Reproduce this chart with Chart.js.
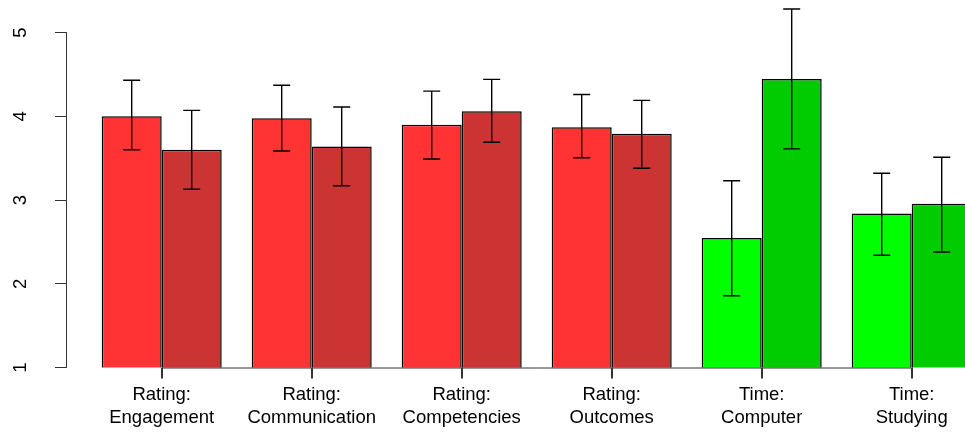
<!DOCTYPE html>
<html>
<head>
<meta charset="utf-8">
<script src="https://cdn.jsdelivr.net/npm/chart.js@4"></script>
<style>
    html, body { margin: 0; padding: 0; background: #fff; overflow: hidden; }
</style>
</head>
<body>
<canvas id="chart" width="965" height="432"></canvas>
<script>
const categoryLabels = [
    ["Rating:", "Engagement"],
    ["Rating:", "Communication"],
    ["Rating:", "Competencies"],
    ["Rating:", "Outcomes"],
    ["Time:", "Computer"],
    ["Time:", "Studying"],
];
const firstValues = [4.0, 3.975, 3.9, 3.87, 2.545, 2.84];
const firstLow = [3.6, 3.585, 3.49, 3.505, 1.857, 2.34];
const firstHigh = [4.43, 4.37, 4.3, 4.26, 3.23, 3.32];
const secondValues = [3.6, 3.64, 4.06, 3.79, 4.445, 2.956];
const secondLow = [3.13, 3.17, 3.69, 3.38, 3.61, 2.38];
const secondHigh = [4.07, 4.11, 4.44, 4.19, 5.28, 3.51];
const firstColors = ["#ff3333", "#ff3333", "#ff3333", "#ff3333", "#00ff00", "#00ff00"];
const secondColors = ["#cc3333", "#cc3333", "#cc3333", "#cc3333", "#00cc00", "#00cc00"];
const yTicks = [1, 2, 3, 4, 5];

const axisColor = "#333";
const font = { family: "'Liberation Sans', Arial, sans-serif", size: 18.5, lineHeight: 1.25 };

const toPoints = (values) => values.map((v, i) => ({ x: i + 1, y: v }));

// whiskers plus the R-style x axis (line from first to last tick, tick marks)
const errorBars = {
    id: "errorBars",
    afterDatasetsDraw(chart) {
        const { ctx, scales } = chart;
        const bounds = [
            [firstLow, firstHigh],
            [secondLow, secondHigh],
        ];
        ctx.save();
        ctx.strokeStyle = "#000";
        ctx.lineWidth = 1.4;
        chart.data.datasets.forEach((ds, d) => {
            const meta = chart.getDatasetMeta(d);
            meta.data.forEach((bar, i) => {
                const top = scales.y.getPixelForValue(bounds[d][1][i]);
                const bottom = scales.y.getPixelForValue(bounds[d][0][i]);
                const cap = 8.5;
                ctx.beginPath();
                ctx.moveTo(bar.x, top);
                ctx.lineTo(bar.x, bottom);
                ctx.moveTo(bar.x - cap, top);
                ctx.lineTo(bar.x + cap, top);
                ctx.moveTo(bar.x - cap, bottom);
                ctx.lineTo(bar.x + cap, bottom);
                ctx.stroke();
            });
        });
        const yBase = scales.y.getPixelForValue(yTicks[0]);
        ctx.strokeStyle = axisColor;
        ctx.lineWidth = 1;
        ctx.beginPath();
        ctx.moveTo(scales.x.getPixelForValue(1), yBase + 0.5);
        ctx.lineTo(scales.x.getPixelForValue(categoryLabels.length), yBase + 0.5);
        categoryLabels.forEach((_, i) => {
            const x = Math.round(scales.x.getPixelForValue(i + 1)) + 0.5;
            ctx.moveTo(x, yBase);
            ctx.lineTo(x, yBase + 11);
        });
        ctx.stroke();
        ctx.restore();
    },
};

new Chart(document.getElementById("chart"), {
    type: "bar",
    data: {
        datasets: [
            {
                data: toPoints(firstValues),
                backgroundColor: firstColors,
                borderColor: "#000",
                borderWidth: 1.5,
            },
            {
                data: toPoints(secondValues),
                backgroundColor: secondColors,
                borderColor: "#000",
                borderWidth: 1.5,
            },
        ],
    },
    options: {
        responsive: false,
        animation: false,
        layout: { padding: { top: 32.5, left: 0, right: 0, bottom: 0 } },
        plugins: { legend: { display: false }, tooltip: { enabled: false } },
        datasets: { bar: { categoryPercentage: 0.8, barPercentage: 1 } },
        scales: {
            x: {
                type: "linear",
                offset: false,
                min: 0.362,
                max: 6.3553,
                afterBuildTicks: (scale) => {
                    scale.ticks = categoryLabels.map((_, i) => ({ value: i + 1 }));
                },
                afterFit: (scale) => {
                    scale.height = 64.5;
                    scale.paddingLeft = 0;
                    scale.paddingRight = 0;
                },
                grid: {
                    offset: false,
                    drawOnChartArea: false,
                    tickLength: 11,
                    color: axisColor,
                    tickColor: axisColor,
                },
                border: { display: false },
                ticks: {
                    autoSkip: false,
                    maxRotation: 0,
                    padding: 5,
                    color: "#000",
                    font,
                    callback: (value) => categoryLabels[value - 1],
                },
            },
            y: {
                min: 1,
                max: 5,
                afterBuildTicks: (scale) => {
                    scale.ticks = yTicks.map((v) => ({ value: v }));
                },
                afterFit: (scale) => {
                    scale.width = 66;
                    scale.paddingTop = 0;
                    scale.paddingBottom = 0;
                },
                grid: {
                    drawOnChartArea: false,
                    tickLength: 11,
                    color: axisColor,
                    tickColor: axisColor,
                },
                border: { display: true, color: axisColor },
                ticks: {
                    minRotation: 90,
                    maxRotation: 90,
                    crossAlign: "center",
                    padding: 29,
                    color: "#000",
                    font,
                },
            },
        },
    },
    plugins: [errorBars],
});
</script>
</body>
</html>
